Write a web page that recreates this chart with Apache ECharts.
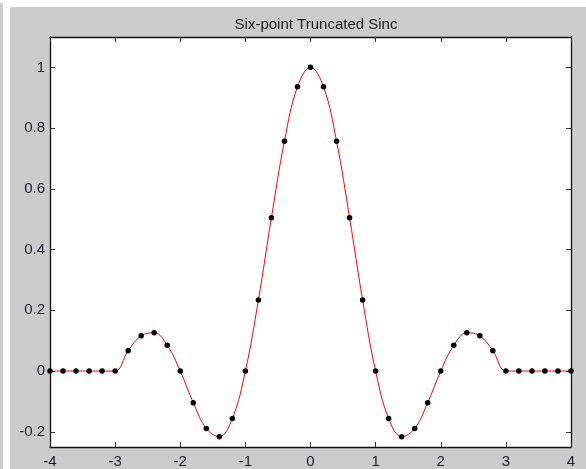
<!DOCTYPE html>
<html>
<head>
<meta charset="utf-8">
<script src="https://cdn.jsdelivr.net/npm/echarts@6/dist/echarts.min.js"></script>
<style>
  html, body { margin: 0; padding: 0; background: #ffffff; width: 586px; height: 469px; overflow: hidden; }
  #strip { position: absolute; left: 0; top: 3px; width: 3px; height: 466px; background: #cccccc; }
  #chart { position: absolute; left: 10px; top: 7px; width: 576px; height: 462px; }
</style>
</head>
<body>
<div id="strip"></div>
<div id="chart"></div>
<script>
// Sample positions (x) and values
const sampleX = [-4, -3.8, -3.6, -3.4, -3.2, -3, -2.8, -2.6, -2.4, -2.2, -2, -1.8, -1.6, -1.4, -1.2, -1, -0.8, -0.6, -0.4, -0.2, 0,
                 0.2, 0.4, 0.6, 0.8, 1, 1.2, 1.4, 1.6, 1.8, 2, 2.2, 2.4, 2.6, 2.8, 3, 3.2, 3.4, 3.6, 3.8, 4];
const sampleY = [0, 0, 0, 0, 0, 0, 0.067, 0.116, 0.126, 0.085, 0, -0.104, -0.189, -0.216, -0.156, 0, 0.234, 0.505, 0.757, 0.936, 1,
                 0.936, 0.757, 0.505, 0.234, 0, -0.156, -0.216, -0.189, -0.104, 0, 0.085, 0.126, 0.116, 0.067, 0, 0, 0, 0, 0, 0];
const xTicks = [-4, -3, -2, -1, 0, 1, 2, 3, 4];
const yTicks = [-0.2, 0, 0.2, 0.4, 0.6, 0.8, 1];
const titleText = 'Six-point Truncated Sinc';

const pts = sampleX.map((x, i) => [x, sampleY[i]]);
const font = 'Arial, "Liberation Sans", Helvetica, sans-serif';
const axisCol = '#111111';

const chart = echarts.init(document.getElementById('chart'), null, { renderer: 'canvas' });

function xAxisDef(pos, showLabel) {
  return {
    type: 'value', position: pos, min: -4, max: 4, interval: 1,
    axisLine: { show: true, onZero: false, lineStyle: { color: axisCol, width: 1.3 } },
    axisTick: { show: true, inside: true, length: 5, lineStyle: { color: '#333', width: 1 } },
    axisLabel: { show: showLabel, margin: 7, color: '#1c1c2a', fontSize: 15, fontFamily: font,
                 customValues: xTicks },
    splitLine: { show: false }
  };
}
function yAxisDef(pos, showLabel) {
  return {
    type: 'value', position: pos, min: -0.25, max: 1.1,
    axisLine: { show: true, onZero: false, lineStyle: { color: axisCol, width: 1.3 } },
    axisTick: { show: true, inside: true, length: 5, customValues: yTicks, lineStyle: { color: '#333', width: 1 } },
    axisLabel: { show: showLabel, margin: 5, color: '#1c1c2a', fontSize: 15, fontFamily: font,
                 customValues: yTicks },
    splitLine: { show: false }
  };
}

chart.setOption({
  backgroundColor: '#cccccc',
  animation: false,
  title: {
    text: titleText, left: 301, top: 5, textAlign: 'center',
    textStyle: { color: '#222', fontSize: 15, fontWeight: 'normal', fontFamily: font }
  },
  grid: { left: 40, top: 30, right: 15, bottom: 21, show: true, backgroundColor: '#ffffff', borderWidth: 0 },
  xAxis: [xAxisDef('bottom', true), xAxisDef('top', false)],
  yAxis: [yAxisDef('left', true), yAxisDef('right', false)],
  series: [
    {
      type: 'line', data: pts, smooth: 0.4, showSymbol: false, symbol: 'none',
      lineStyle: { color: '#ff0000', width: 1 }, z: 2
    },
    {
      type: 'scatter', data: pts, symbol: 'circle', symbolSize: 5.5,
      itemStyle: { color: '#000000', opacity: 1 }, z: 3
    }
  ]
});
</script>
</body>
</html>
